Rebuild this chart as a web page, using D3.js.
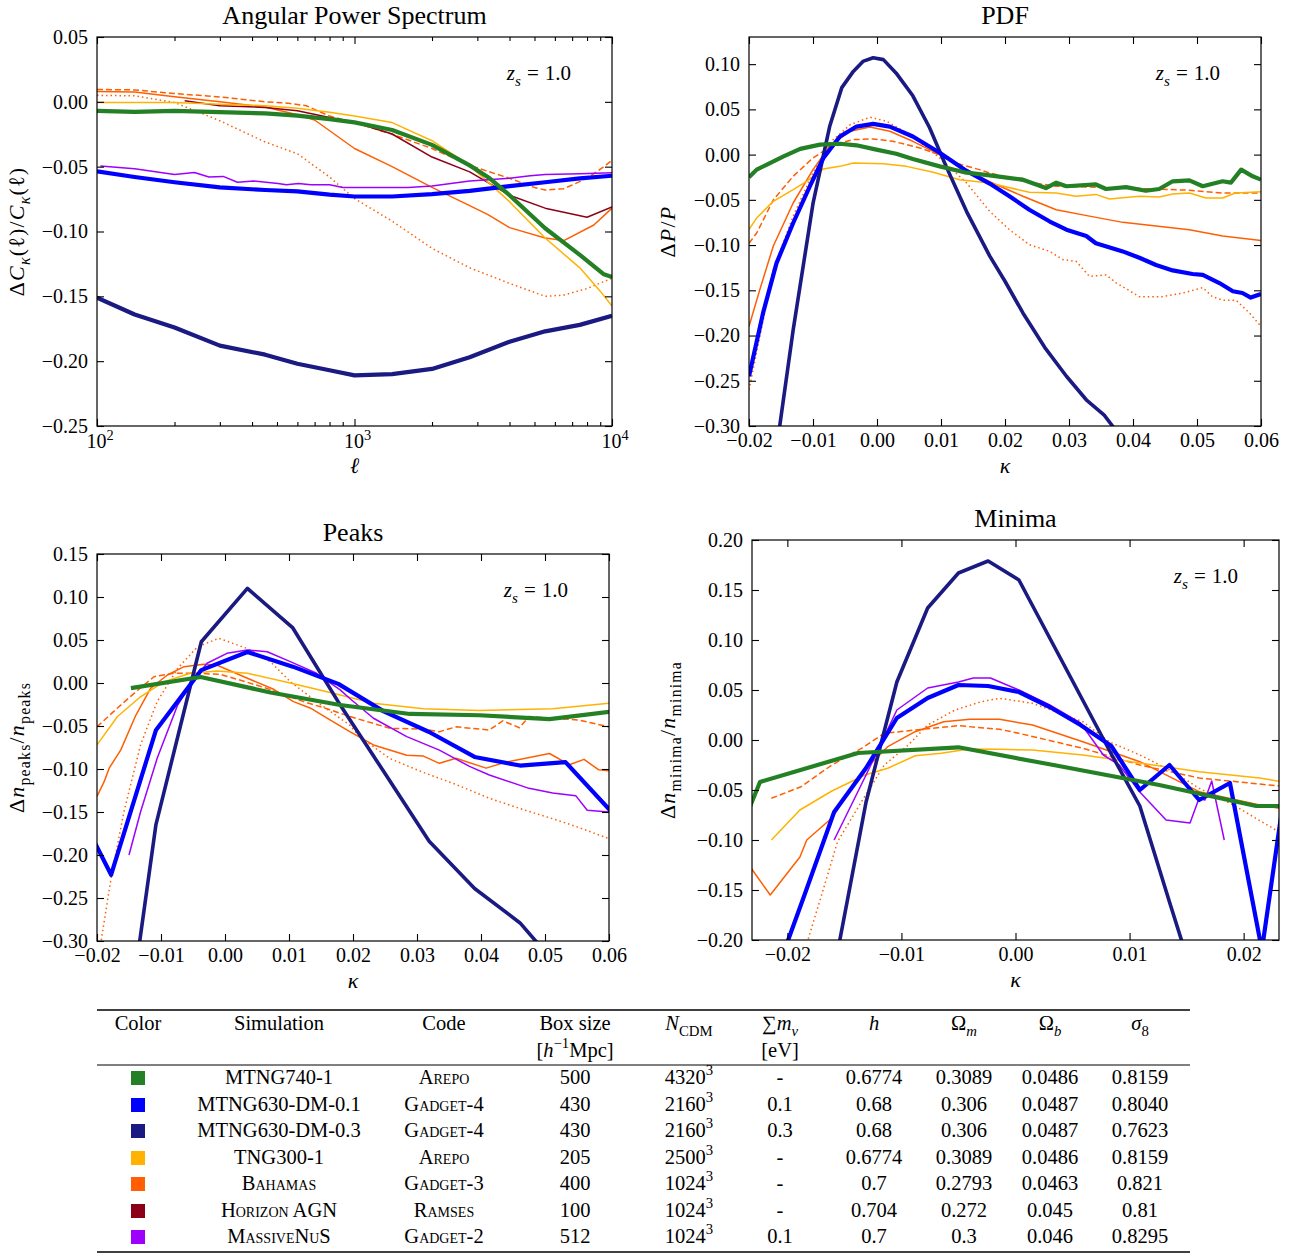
<!DOCTYPE html>
<html>
<head>
<meta charset="utf-8">
<script src="https://cdn.jsdelivr.net/npm/d3@7"></script>
<style>
  body { margin: 0; background: #fff; }
  svg { font-family: "Liberation Serif", "Times New Roman", serif; }
</style>
</head>
<body>
<svg id="fig" width="1297" height="1254"></svg>
<script>
// ---- colours (one per simulation) ----
const cGreen = "#248024", cBlue = "#0000ff", cNavy = "#1a1a82", cYellow = "#ffb300",
      cOrange = "#ff5f00", cDarkRed = "#8b0018", cPurple = "#9d00ff";

// ---- Angular power spectrum: ell and dC/C ----
const apsGreenL = [100, 140, 200, 300, 450, 600, 800, 1000, 1400, 2000, 2800, 3350, 4000, 5500, 7500, 9300, 10000];
const apsGreen = [-0.0069, -0.0077, -0.0069, -0.0079, -0.0089, -0.0107, -0.0133, -0.0158, -0.0217, -0.0332, -0.049, -0.059, -0.072, -0.0975, -0.118, -0.133, -0.135];
const apsDmL = [100, 140, 200, 300, 450, 600, 800, 1000, 1400, 2000, 2800, 4000, 5500, 7500, 10000];
const apsBlue = [-0.0536, -0.058, -0.062, -0.066, -0.068, -0.069, -0.0715, -0.073, -0.073, -0.0712, -0.0687, -0.065, -0.062, -0.059, -0.057];
const apsNavy = [-0.151, -0.164, -0.174, -0.188, -0.195, -0.202, -0.207, -0.211, -0.210, -0.206, -0.197, -0.185, -0.177, -0.172, -0.165];
const apsYellowL = [100, 200, 300, 450, 600, 800, 1000, 1400, 2000, 2800, 4000, 5500, 7500, 9000, 10000];
const apsYellow = [-0.0005, -0.0005, -0.0018, -0.003, -0.005, -0.008, -0.011, -0.016, -0.030, -0.049, -0.077, -0.105, -0.128, -0.146, -0.1575];
const apsHorizonL = [219, 300, 450, 600, 800, 1000, 1400, 2000, 2800, 4000, 5500, 8000, 10000];
const apsHorizon = [0.0008, -0.003, -0.0043, -0.0069, -0.012, -0.0158, -0.0248, -0.0426, -0.054, -0.072, -0.082, -0.089, -0.081];
const apsBahamasL = [100, 140, 200, 300, 450, 600, 700, 1000, 1400, 2000, 2800, 3300, 4000, 5500, 6500, 8500, 10000];
const apsBahamas = [0.008, 0.0075, 0.004, 0.000, -0.004, -0.010, -0.014, -0.036, -0.050, -0.066, -0.080, -0.087, -0.097, -0.105, -0.107, -0.095, -0.082];
const apsBahamasHiL = [100, 140, 200, 300, 450, 550, 650, 800, 1000, 1400, 2000, 2800, 4000, 5000, 5500, 6500, 8000, 9300, 10000];
const apsBahamasHi = [0.0095, 0.0092, 0.0064, 0.0038, 0.000, -0.001, -0.003, -0.011, -0.016, -0.025, -0.036, -0.049, -0.059, -0.066, -0.068, -0.067, -0.059, -0.050, -0.045];
const apsBahamasLoL = [100, 140, 200, 300, 450, 600, 800, 1000, 1400, 2000, 2800, 4000, 5500, 6500, 8000, 10000];
const apsBahamasLo = [0.005, 0.0046, -0.0005, -0.0146, -0.031, -0.040, -0.058, -0.0746, -0.092, -0.113, -0.128, -0.140, -0.150, -0.149, -0.144, -0.136];
const apsNuL = [103, 140, 200, 239, 272, 309, 351, 406, 505, 544, 606, 676, 800, 903, 1000, 1208, 1616, 2000, 2800, 4000, 4815, 5500, 7500, 10000];
const apsNu = [-0.0495, -0.0516, -0.056, -0.0545, -0.058, -0.0575, -0.062, -0.061, -0.063, -0.064, -0.063, -0.064, -0.064, -0.066, -0.066, -0.066, -0.066, -0.065, -0.061, -0.059, -0.057, -0.056, -0.0555, -0.0546];

// ---- PDF: kappa and dP/P ----
const pdfNavyK = [-0.018, -0.0152, -0.0131, -0.0100, -0.0074, -0.0055, -0.0037, -0.0022, -0.0006, 0.0010, 0.0030, 0.0056, 0.0082, 0.0108, 0.0140, 0.0176, 0.0200, 0.0228, 0.0262, 0.0296, 0.0327, 0.0355, 0.0368, 0.040];
const pdfNavy = [-0.45, -0.30, -0.194, -0.054, 0.031, 0.074, 0.092, 0.103, 0.107, 0.105, 0.090, 0.065, 0.030, -0.013, -0.063, -0.112, -0.140, -0.175, -0.213, -0.245, -0.271, -0.288, -0.30, -0.33];
const pdfBlueK = [-0.0200, -0.0178, -0.0157, -0.0131, -0.0105, -0.0084, -0.0058, -0.0032, -0.0006, 0.0020, 0.0056, 0.0098, 0.0140, 0.0176, 0.0207, 0.0238, 0.0270, 0.0296, 0.0327, 0.0342, 0.0384, 0.0410, 0.0436, 0.0462, 0.0493, 0.0509, 0.0535, 0.0556, 0.0571, 0.0584, 0.0600];
const pdfBlue = [-0.245, -0.175, -0.120, -0.0756, -0.035, -0.004, 0.020, 0.031, 0.034, 0.031, 0.020, 0.002, -0.018, -0.032, -0.046, -0.061, -0.074, -0.083, -0.090, -0.098, -0.107, -0.114, -0.122, -0.128, -0.132, -0.133, -0.142, -0.151, -0.153, -0.158, -0.154];
const pdfGreenK = [-0.0200, -0.0188, -0.0172, -0.0146, -0.0120, -0.0089, -0.0058, -0.0032, -0.0001, 0.0030, 0.0056, 0.0098, 0.0140, 0.0176, 0.0228, 0.0264, 0.0280, 0.0296, 0.0342, 0.0358, 0.0389, 0.0420, 0.0441, 0.0462, 0.0488, 0.0509, 0.0540, 0.0553, 0.0569, 0.0587, 0.0600];
const pdfGreen = [-0.025, -0.0166, -0.011, -0.002, 0.0063, 0.011, 0.012, 0.0103, 0.0055, 0.001, -0.0048, -0.013, -0.020, -0.023, -0.0277, -0.037, -0.031, -0.035, -0.033, -0.038, -0.036, -0.040, -0.038, -0.0295, -0.0284, -0.035, -0.0295, -0.031, -0.0166, -0.024, -0.0277];
const pdfYellowK = [-0.0200, -0.0188, -0.0162, -0.0131, -0.0110, -0.0084, -0.0058, -0.0037, 0.0010, 0.0046, 0.0088, 0.0129, 0.0176, 0.0238, 0.0280, 0.0311, 0.0342, 0.0363, 0.0410, 0.0441, 0.0462, 0.0488, 0.0514, 0.0540, 0.0560, 0.0600];
const pdfYellow = [-0.083, -0.070, -0.0516, -0.0387, -0.0295, -0.0158, -0.013, -0.0092, -0.010, -0.013, -0.0195, -0.0277, -0.0313, -0.0417, -0.0424, -0.046, -0.044, -0.049, -0.046, -0.0468, -0.0435, -0.0424, -0.048, -0.048, -0.0424, -0.041];
const pdfBahamasK = [-0.0200, -0.0183, -0.0162, -0.0131, -0.0100, -0.0074, -0.0042, -0.0011, 0.0020, 0.0056, 0.0098, 0.0140, 0.0176, 0.0228, 0.0280, 0.0332, 0.0384, 0.0436, 0.0488, 0.0540, 0.0600];
const pdfBahamas = [-0.19, -0.149, -0.101, -0.0535, -0.0166, 0.0092, 0.0258, 0.0306, 0.0258, 0.0147, 0.000, -0.0166, -0.030, -0.046, -0.061, -0.068, -0.0749, -0.079, -0.083, -0.090, -0.095];
const pdfBahamasHiK = [-0.0200, -0.0188, -0.0162, -0.0131, -0.0100, -0.0068, -0.0037, -0.0006, 0.0025, 0.0067, 0.0093, 0.0119, 0.0160, 0.0176, 0.0228, 0.0280, 0.0384, 0.0488, 0.0540, 0.0600];
const pdfBahamasHi = [-0.098, -0.0867, -0.050, -0.024, -0.0037, 0.011, 0.0166, 0.0173, 0.0147, 0.0074, 0.001, -0.0085, -0.0166, -0.0203, -0.0295, -0.035, -0.0368, -0.0394, -0.0424, -0.0424];
const pdfBahamasLoK = [-0.0200, -0.0183, -0.0162, -0.0131, -0.0100, -0.0074, -0.0042, -0.0011, 0.0015, 0.0056, 0.0098, 0.0140, 0.0176, 0.0207, 0.0238, 0.0270, 0.0290, 0.0311, 0.0332, 0.0358, 0.0374, 0.0410, 0.0446, 0.0478, 0.0509, 0.0524, 0.0540, 0.0561, 0.0582, 0.0600];
const pdfBahamasLo = [-0.26, -0.201, -0.127, -0.068, -0.020, 0.0129, 0.033, 0.0413, 0.0369, 0.020, -0.0037, -0.0313, -0.0627, -0.083, -0.0996, -0.107, -0.116, -0.118, -0.1346, -0.133, -0.142, -0.157, -0.157, -0.153, -0.147, -0.157, -0.161, -0.161, -0.175, -0.19];

// ---- Peaks: kappa and dn/n ----
const peaksNavyK = [-0.0178, -0.0108, -0.0037, 0.0035, 0.0106, 0.0177, 0.0248, 0.0319, 0.0390, 0.0461, 0.0532];
const peaksNavy = [-0.54, -0.165, 0.048, 0.110, 0.064, -0.022, -0.103, -0.184, -0.239, -0.279, -0.34];
const peaksBlueK = [-0.0249, -0.0178, -0.0108, -0.0037, 0.0035, 0.0106, 0.0177, 0.0248, 0.0319, 0.0390, 0.0461, 0.0532, 0.0603];
const peaksBlue = [-0.118, -0.223, -0.055, 0.015, 0.036, 0.019, -0.001, -0.033, -0.057, -0.086, -0.096, -0.092, -0.149];
const peaksGreenK = [-0.0147, -0.0038, 0.0071, 0.0180, 0.0289, 0.0398, 0.0507, 0.0616];
const peaksGreen = [-0.006, 0.007, -0.011, -0.0256, -0.036, -0.0375, -0.042, -0.032];
const peaksYellowK = [-0.0200, -0.0168, -0.0132, -0.0095, -0.0054, -0.0012, 0.0035, 0.0102, 0.0169, 0.0232, 0.0310, 0.0398, 0.0512, 0.0600];
const peaksYellow = [-0.072, -0.039, -0.016, 0.0015, 0.0113, 0.014, 0.0113, 0.000, -0.012, -0.0236, -0.030, -0.032, -0.030, -0.0236];
const peaksBahamasK = [-0.0200, -0.0189, -0.0181, -0.0163, -0.0139, -0.0116, -0.0090, -0.0064, -0.0033, -0.0012, 0.0035, 0.0076, 0.0107, 0.0133, 0.0164, 0.0195, 0.0232, 0.0284, 0.0310, 0.0335, 0.0361, 0.0408, 0.0439, 0.0507, 0.0538, 0.0561, 0.0584, 0.0600];
const peaksBahamas = [-0.132, -0.115, -0.099, -0.078, -0.037, -0.006, 0.0093, 0.019, 0.0217, 0.0206, 0.0055, -0.0073, -0.0217, -0.029, -0.043, -0.0566, -0.072, -0.084, -0.085, -0.0934, -0.0876, -0.099, -0.092, -0.082, -0.095, -0.0888, -0.101, -0.102];
const peaksBahamasHiK = [-0.0200, -0.0168, -0.0142, -0.0111, -0.0080, -0.0043, -0.0007, 0.0035, 0.0081, 0.0123, 0.0164, 0.0195, 0.0258, 0.0310, 0.0335, 0.0361, 0.0413, 0.0434, 0.0460, 0.0475, 0.0512, 0.0553, 0.0600];
const peaksBahamasHi = [-0.051, -0.029, -0.012, 0.0073, 0.0113, 0.0113, 0.010, 0.0008, -0.010, -0.0217, -0.031, -0.039, -0.0527, -0.0535, -0.0566, -0.051, -0.0547, -0.044, -0.052, -0.039, -0.041, -0.043, -0.051];
const peaksBahamasLoK = [-0.0200, -0.0178, -0.0158, -0.0132, -0.0106, -0.0074, -0.0043, -0.0010, 0.0035, 0.0071, 0.0102, 0.0143, 0.0195, 0.0211, 0.0258, 0.0310, 0.0361, 0.0413, 0.0465, 0.0517, 0.0553, 0.0600];
const peaksBahamasLo = [-0.33, -0.227, -0.150, -0.072, -0.0217, 0.017, 0.042, 0.052, 0.040, 0.0248, 0.0015, -0.0217, -0.049, -0.063, -0.088, -0.104, -0.118, -0.134, -0.147, -0.159, -0.168, -0.181];
const peaksNuK = [-0.0150, -0.0132, -0.0106, -0.0074, -0.0049, -0.0028, 0.0003, 0.0035, 0.0066, 0.0102, 0.0143, 0.0180, 0.0195, 0.0232, 0.0284, 0.0335, 0.0382, 0.0413, 0.0475, 0.0512, 0.0548, 0.0566, 0.0600];
const peaksNu = [-0.200, -0.150, -0.0876, -0.0256, 0.0035, 0.023, 0.0345, 0.0384, 0.0364, 0.0248, 0.0113, -0.008, -0.018, -0.041, -0.0624, -0.078, -0.097, -0.107, -0.1225, -0.128, -0.131, -0.148, -0.150];

// ---- Minima: kappa and dn/n ----
const minNavyK = [-0.0158, -0.0131, -0.0104, -0.0077, -0.0050, -0.0024, 0.0003, 0.0030, 0.0057, 0.0084, 0.0109, 0.0135, 0.0162];
const minNavy = [-0.224, -0.062, 0.058, 0.132, 0.167, 0.179, 0.160, 0.102, 0.044, -0.014, -0.066, -0.162, -0.26];
const minBlueK = [-0.0212, -0.0185, -0.0159, -0.0131, -0.0104, -0.0077, -0.0050, -0.0024, 0.0003, 0.0030, 0.0057, 0.0084, 0.0109, 0.0135, 0.0161, 0.0188, 0.0216, 0.0243];
const minBlue = [-0.24, -0.155, -0.072, -0.028, 0.022, 0.042, 0.055, 0.054, 0.048, 0.033, 0.015, -0.006, -0.050, -0.025, -0.060, -0.043, -0.21, 0.005];
const minNuK = [-0.0159, -0.0131, -0.0104, -0.0077, -0.0050, -0.0037, -0.0022, 0.0003, 0.0030, 0.0057, 0.0077, 0.0091, 0.0109, 0.0132, 0.0153, 0.0161, 0.0166, 0.0172, 0.0183];
const minNu = [-0.100, -0.035, 0.030, 0.052, 0.058, 0.062, 0.062, 0.050, 0.035, 0.017, -0.015, -0.025, -0.052, -0.080, -0.083, -0.058, -0.060, -0.041, -0.100];
const minGreenK = [-0.0312, -0.0224, -0.0138, -0.0050, 0.0038, 0.0126, 0.0211, 0.0300];
const minGreen = [-0.29, -0.042, -0.013, -0.0073, -0.026, -0.045, -0.066, -0.066];
const minYellowK = [-0.0214, -0.0189, -0.0161, -0.0132, -0.0112, -0.0088, -0.0065, -0.0041, -0.0014, 0.0015, 0.0059, 0.0109, 0.0161, 0.0214, 0.0240];
const minYellow = [-0.100, -0.070, -0.051, -0.035, -0.0283, -0.0157, -0.0133, -0.009, -0.0093, -0.010, -0.015, -0.023, -0.0317, -0.038, -0.043];
const minBahamasK = [-0.0240, -0.0215, -0.0189, -0.0183, -0.0161, -0.0135, -0.0112, -0.0088, -0.0063, -0.0040, -0.0014, 0.0015, 0.0059, 0.0109, 0.0161, 0.0214, 0.0240];
const minBahamas = [-0.115, -0.155, -0.117, -0.100, -0.078, -0.033, -0.0067, 0.0083, 0.0183, 0.0207, 0.0207, 0.015, -0.0017, -0.0217, -0.0517, -0.065, -0.070];
const minBahamasHiK = [-0.0214, -0.0188, -0.0161, -0.0135, -0.0115, -0.0088, -0.0050, -0.0014, 0.0003, 0.0059, 0.0109, 0.0161, 0.0240];
const minBahamasHi = [-0.0583, -0.0467, -0.025, -0.0083, 0.0067, 0.010, 0.0143, 0.0107, 0.0067, -0.0083, -0.025, -0.038, -0.047];
const minBahamasLoK = [-0.0195, -0.0182, -0.0170, -0.0156, -0.0135, -0.0115, -0.0094, -0.0077, -0.0053, -0.0030, -0.0014, 0.0015, 0.0059, 0.0082, 0.0109, 0.0138, 0.0161, 0.0191, 0.0240];
const minBahamasLo = [-0.26, -0.20, -0.155, -0.1017, -0.0617, -0.025, -0.005, 0.015, 0.030, 0.0383, 0.0417, 0.0367, 0.0183, -0.0017, -0.015, -0.0317, -0.0483, -0.065, -0.098];

// ---- tick values ----
const apsYTicks = [-0.25, -0.20, -0.15, -0.10, -0.05, 0.00, 0.05];
const apsXMajor = [100, 1000, 10000];
const pdfYTicks = [-0.30, -0.25, -0.20, -0.15, -0.10, -0.05, 0.00, 0.05, 0.10];
const peaksYTicks = [-0.30, -0.25, -0.20, -0.15, -0.10, -0.05, 0.00, 0.05, 0.10, 0.15];
const kappaTicks = [-0.02, -0.01, 0.00, 0.01, 0.02, 0.03, 0.04, 0.05, 0.06];
const minYTicks = [-0.20, -0.15, -0.10, -0.05, 0.00, 0.05, 0.10, 0.15, 0.20];
const minXTicks = [-0.02, -0.01, 0.00, 0.01, 0.02];

// ---- table ----
const tabColors = [cGreen, cBlue, cNavy, cYellow, cOrange, cDarkRed, cPurple];
const tabSim = ["MTNG740-1", "MTNG630-DM-0.1", "MTNG630-DM-0.3", "TNG300-1", "Bahamas", "Horizon AGN", "MassiveNuS"];
const tabSimCaps = [false, false, false, false, true, true, true];
const tabCode = ["Arepo", "Gadget-4", "Gadget-4", "Arepo", "Gadget-3", "Ramses", "Gadget-2"];
const tabBox = ["500", "430", "430", "205", "400", "100", "512"];
const tabNcdm = ["4320", "2160", "2160", "2500", "1024", "1024", "1024"];
const tabMnu = ["-", "0.1", "0.3", "-", "-", "-", "0.1"];
const tabH = ["0.6774", "0.68", "0.68", "0.6774", "0.7", "0.704", "0.7"];
const tabOm = ["0.3089", "0.306", "0.306", "0.3089", "0.2793", "0.272", "0.3"];
const tabOb = ["0.0486", "0.0487", "0.0487", "0.0486", "0.0463", "0.045", "0.046"];
const tabS8 = ["0.8159", "0.8040", "0.7623", "0.8159", "0.821", "0.81", "0.8295"];

const FONT = "'Liberation Serif', 'Times New Roman', serif";
const svg = d3.select("#fig");

// text with sub/superscripts; parts: {t, it, sub, sup}
function rich(sel, parts, size) {
  let shift = 0;
  parts.forEach(p => {
    const small = p.sub || p.sup;
    const target = p.sub ? size * 0.28 : p.sup ? -size * 0.42 : 0;
    sel.append("tspan")
      .attr("dy", target - shift)
      .attr("font-size", small ? size * 0.72 : size)
      .attr("font-style", p.it ? "italic" : null)
      .attr("dx", p.dx || null)
      .text(p.t);
    shift = target;
  });
  return sel;
}

function label(x, y, parts, size, opts = {}) {
  const t = svg.append("text")
    .attr("x", x).attr("y", y)
    .attr("text-anchor", opts.anchor || "middle")
    .attr("font-size", size)
    .attr("letter-spacing", opts.spacing || null)
    .attr("fill", "#000");
  if (opts.rotate) t.attr("transform", `rotate(-90,${x},${y})`);
  return rich(t, parts, size);
}

function S(x, y, color, w, dash) { return {x, y, color, w, dash}; }

function drawPanel(p) {
  const [L, R, T, B] = p.box;
  const x = (p.log ? d3.scaleLog() : d3.scaleLinear()).domain(p.xDomain).range([L, R]);
  const y = d3.scaleLinear().domain(p.yDomain).range([B, T]);
  const clipId = "clip-" + p.id;
  svg.append("clipPath").attr("id", clipId).append("rect")
    .attr("x", L).attr("y", T).attr("width", R - L).attr("height", B - T);

  const line = d3.line().x(d => x(d[0])).y(d => y(d[1]));
  const lg = svg.append("g").attr("clip-path", `url(#${clipId})`);
  p.series.forEach(s => {
    lg.append("path")
      .datum(d3.zip(s.x, s.y))
      .attr("fill", "none")
      .attr("stroke", s.color)
      .attr("stroke-width", s.w)
      .attr("stroke-linejoin", "round")
      .attr("stroke-dasharray", s.dash || null)
      .attr("d", line);
  });

  const fmt = d3.format(".2f");
  const ax = (gen, tx, ty) => svg.append("g")
    .attr("transform", `translate(${tx},${ty})`)
    .call(gen)
    .call(g => g.select(".domain").remove())
    .attr("font-size", 20).attr("font-family", FONT)
    .call(g => g.selectAll("line").attr("stroke-width", 1.1));

  ax(d3.axisLeft(y).tickValues(p.yTicks).tickFormat(fmt).tickSize(-7).tickPadding(9), L, 0);
  ax(d3.axisRight(y).tickValues(p.yTicks).tickFormat("").tickSize(-7), R, 0);

  if (p.log) {
    const minor = [];
    [100, 1000].forEach(d => { for (let k = 2; k < 10; k++) minor.push(d * k); });
    ax(d3.axisBottom(x).tickValues(apsXMajor).tickFormat("").tickSize(-7), 0, B);
    ax(d3.axisTop(x).tickValues(apsXMajor).tickFormat("").tickSize(-7), 0, T);
    ax(d3.axisBottom(x).tickValues(minor).tickFormat("").tickSize(-4), 0, B);
    ax(d3.axisTop(x).tickValues(minor).tickFormat("").tickSize(-4), 0, T);
    apsXMajor.forEach(v => {
      label(x(v) + 3, B + 22, [{t: "10"}, {t: String(Math.round(Math.log10(v))), sup: true}], 20);
    });
  } else {
    ax(d3.axisBottom(x).tickValues(p.xTicks).tickFormat(fmt).tickSize(-7).tickPadding(7), 0, B);
    ax(d3.axisTop(x).tickValues(p.xTicks).tickFormat("").tickSize(-7), 0, T);
  }

  svg.append("rect")
    .attr("x", L).attr("y", T).attr("width", R - L).attr("height", B - T)
    .attr("fill", "none").attr("stroke", "#000").attr("stroke-width", 1.2);

  label((L + R) / 2, T - 13, [{t: p.title}], 26);
  label((L + R) / 2, B + 47, p.xLabel, 22);
  label(p.yLabelX, (T + B) / 2, p.yLabel, 22, {rotate: true, spacing: 1.2});
  label(R - 41, T + 43, [{t: "z", it: true}, {t: "s", it: true, sub: true},
                         {t: "=", dx: 6}, {t: "1.0", dx: 6}], 21, {anchor: "end"});
}

const kappaLabel = [{t: "κ", it: true}];

drawPanel({
  id: "aps", title: "Angular Power Spectrum", box: [97, 612, 37, 426],
  log: true, xDomain: [100, 10000], yDomain: [-0.25, 0.05], yTicks: apsYTicks,
  xLabel: [{t: "ℓ", it: true}], yLabelX: 24,
  yLabel: [{t: "Δ"}, {t: "C", it: true}, {t: "κ", it: true, sub: true}, {t: "(ℓ)/"},
           {t: "C", it: true}, {t: "κ", it: true, sub: true}, {t: "(ℓ)"}],
  series: [
    S(apsBahamasLoL, apsBahamasLo, cOrange, 1.5, "1.5,3"),
    S(apsBahamasHiL, apsBahamasHi, cOrange, 1.5, "6,3"),
    S(apsBahamasL, apsBahamas, cOrange, 1.5),
    S(apsHorizonL, apsHorizon, cDarkRed, 1.5),
    S(apsYellowL, apsYellow, cYellow, 1.5),
    S(apsNuL, apsNu, cPurple, 1.5),
    S(apsDmL, apsNavy, cNavy, 4.2),
    S(apsDmL, apsBlue, cBlue, 4.2),
    S(apsGreenL, apsGreen, cGreen, 4.2)
  ]
});

drawPanel({
  id: "pdf", title: "PDF", box: [749, 1261, 37, 426],
  xDomain: [-0.02, 0.06], yDomain: [-0.30, 0.13], xTicks: kappaTicks, yTicks: pdfYTicks,
  xLabel: kappaLabel, yLabelX: 675,
  yLabel: [{t: "Δ"}, {t: "P", it: true}, {t: "/"}, {t: "P", it: true}],
  series: [
    S(pdfBahamasLoK, pdfBahamasLo, cOrange, 1.5, "1.5,3"),
    S(pdfBahamasHiK, pdfBahamasHi, cOrange, 1.5, "6,3"),
    S(pdfBahamasK, pdfBahamas, cOrange, 1.5),
    S(pdfYellowK, pdfYellow, cYellow, 1.5),
    S(pdfNavyK, pdfNavy, cNavy, 3.6),
    S(pdfBlueK, pdfBlue, cBlue, 4.2),
    S(pdfGreenK, pdfGreen, cGreen, 4.2)
  ]
});

drawPanel({
  id: "peaks", title: "Peaks", box: [97, 609, 554, 941],
  xDomain: [-0.02, 0.06], yDomain: [-0.30, 0.15], xTicks: kappaTicks, yTicks: peaksYTicks,
  xLabel: kappaLabel, yLabelX: 24,
  yLabel: [{t: "Δ"}, {t: "n", it: true}, {t: "peaks", sub: true}, {t: "/"}, {t: "n", it: true}, {t: "peaks", sub: true}],
  series: [
    S(peaksBahamasLoK, peaksBahamasLo, cOrange, 1.5, "1.5,3"),
    S(peaksBahamasHiK, peaksBahamasHi, cOrange, 1.5, "6,3"),
    S(peaksBahamasK, peaksBahamas, cOrange, 1.5),
    S(peaksYellowK, peaksYellow, cYellow, 1.5),
    S(peaksNuK, peaksNu, cPurple, 1.5),
    S(peaksNavyK, peaksNavy, cNavy, 3.6),
    S(peaksBlueK, peaksBlue, cBlue, 4.2),
    S(peaksGreenK, peaksGreen, cGreen, 4.2)
  ]
});

drawPanel({
  id: "minima", title: "Minima", box: [752, 1279, 540, 940],
  xDomain: [-0.0231, 0.0231], yDomain: [-0.20, 0.20], xTicks: minXTicks, yTicks: minYTicks,
  xLabel: kappaLabel, yLabelX: 675,
  yLabel: [{t: "Δ"}, {t: "n", it: true}, {t: "minima", sub: true}, {t: "/"}, {t: "n", it: true}, {t: "minima", sub: true}],
  series: [
    S(minBahamasLoK, minBahamasLo, cOrange, 1.5, "1.5,3"),
    S(minBahamasHiK, minBahamasHi, cOrange, 1.5, "6,3"),
    S(minBahamasK, minBahamas, cOrange, 1.5),
    S(minYellowK, minYellow, cYellow, 1.5),
    S(minNuK, minNu, cPurple, 1.5),
    S(minNavyK, minNavy, cNavy, 3.6),
    S(minBlueK, minBlue, cBlue, 4.2),
    S(minGreenK, minGreen, cGreen, 4.2)
  ]
});

// ---- parameter table ----
const tabX0 = 97, tabX1 = 1190;
const colX = [138, 279, 444, 575, 689, 780, 874, 964, 1050, 1140];
const rowY = [1084, 1111, 1137, 1164, 1190, 1217, 1243];
const tfs = 20.5;

svg.append("line").attr("x1", tabX0).attr("x2", tabX1).attr("y1", 1010).attr("y2", 1010)
  .attr("stroke", "#000").attr("stroke-width", 1.5);
svg.append("line").attr("x1", tabX0).attr("x2", tabX1).attr("y1", 1065).attr("y2", 1065)
  .attr("stroke", "#000").attr("stroke-width", 1);
svg.append("line").attr("x1", tabX0).attr("x2", tabX1).attr("y1", 1252).attr("y2", 1252)
  .attr("stroke", "#000").attr("stroke-width", 1.5);

const head = [
  [{t: "Color"}], [{t: "Simulation"}], [{t: "Code"}], [{t: "Box size"}],
  [{t: "N", it: true}, {t: "CDM", sub: true}],
  [{t: "∑"}, {t: "m", it: true}, {t: "ν", it: true, sub: true}],
  [{t: "h", it: true}],
  [{t: "Ω"}, {t: "m", it: true, sub: true}],
  [{t: "Ω"}, {t: "b", it: true, sub: true}],
  [{t: "σ", it: true}, {t: "8", sub: true}]
];
head.forEach((h, i) => label(colX[i], 1030, h, tfs));
label(colX[3], 1057, [{t: "["}, {t: "h", it: true}, {t: "−1", sup: true}, {t: "Mpc]"}], tfs);
label(colX[5], 1057, [{t: "[eV]"}], tfs);

svg.append("g").selectAll("rect").data(tabColors).join("rect")
  .attr("x", colX[0] - 7).attr("y", (d, i) => rowY[i] - 13)
  .attr("width", 14).attr("height", 14).attr("fill", d => d);

const cell = (col, arr, caps) => svg.append("g").selectAll("text").data(arr).join("text")
  .attr("x", colX[col]).attr("y", (d, i) => rowY[i])
  .attr("text-anchor", "middle").attr("font-size", tfs)
  .style("font-variant", (d, i) => (caps === true || (caps && caps[i])) ? "small-caps" : null)
  .text(d => d);

cell(1, tabSim, tabSimCaps);
cell(2, tabCode, true);
cell(3, tabBox);
tabNcdm.forEach((v, i) => label(colX[4], rowY[i], [{t: v}, {t: "3", sup: true}], tfs));
cell(5, tabMnu);
cell(6, tabH);
cell(7, tabOm);
cell(8, tabOb);
cell(9, tabS8);
</script>
</body>
</html>
